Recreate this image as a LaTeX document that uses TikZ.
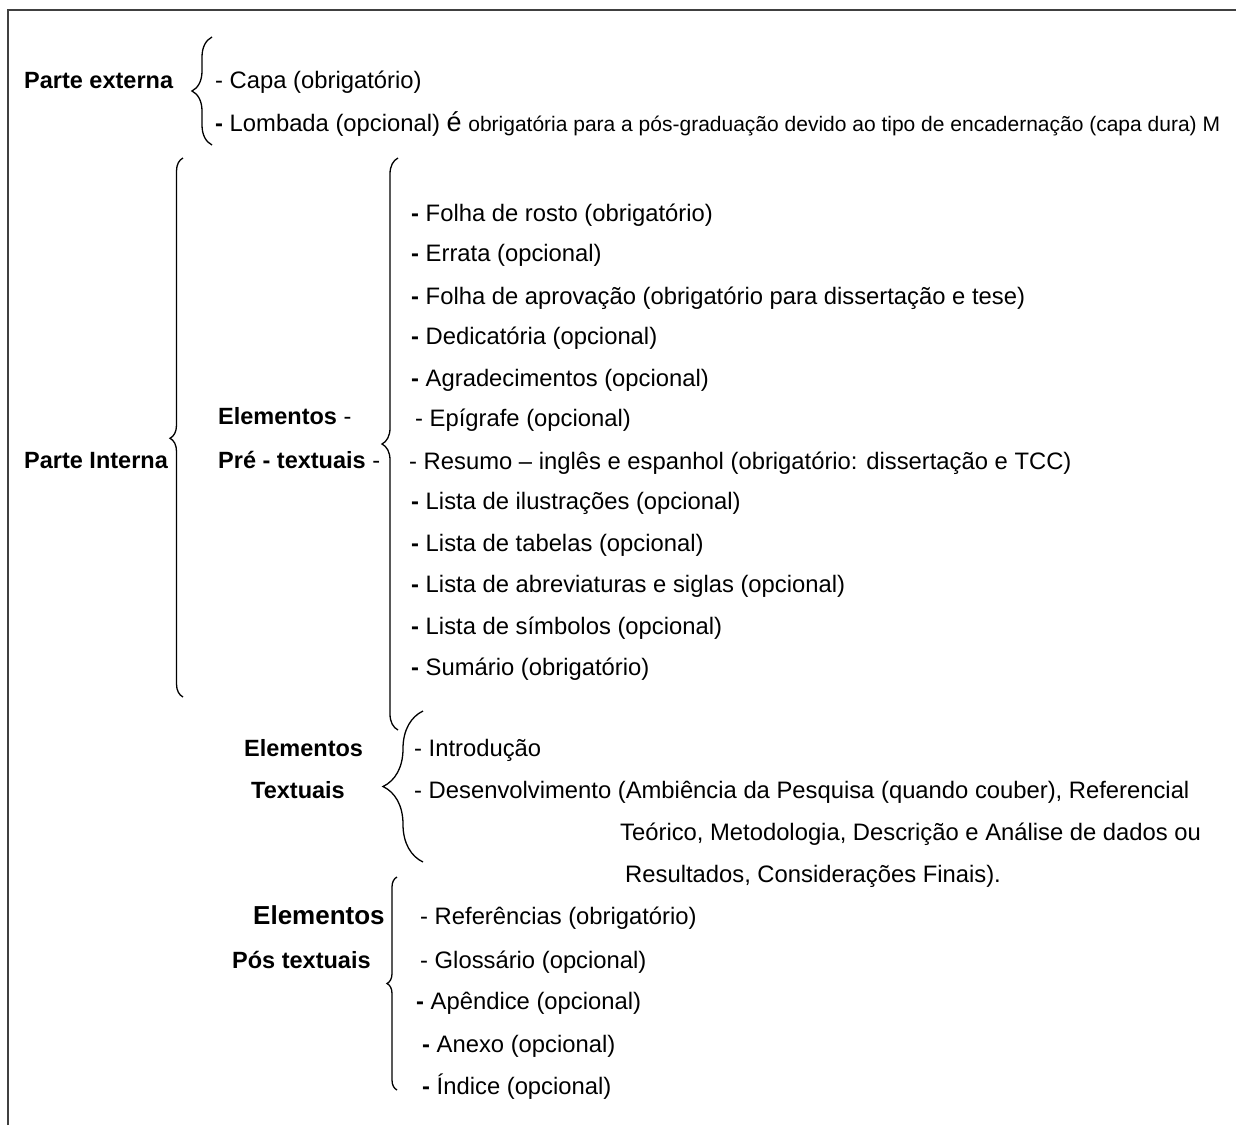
\documentclass[tikz,border=0pt]{standalone}
\usepackage{fontspec}
\setmainfont{Liberation Sans}
\usetikzlibrary{decorations.pathreplacing}
\newcommand{\bdash}{{\bfseries -}}

\begin{document}
\begin{tikzpicture}[x=1pt,y=1pt,
	item_node/.style={anchor=base west,inner sep=0pt,font=\fontsize{23.8}{28}\selectfont},
	head_node/.style={anchor=base west,inner sep=0pt,font=\fontsize{23.5}{28}\selectfont\bfseries},
	brace_line/.style={decorate,decoration={brace,amplitude=#1},line width=1.3pt}]
		
		\useasboundingbox (0,0) rectangle (1236,-1125);
		\draw[line width=1.5pt,black!75] (8,-1125) -- (8,-10) -- (1236,-10);
		
		\node[head_node] (pe) at (24,-88) {Parte externa};
		\node[item_node] (capa) at (215,-88) {- Capa (obrigatório)};
		\node[item_node] (lomb) at (215,-131) {\bdash{} Lombada (opcional) {\fontsize{27}{30}\selectfont é} {\fontsize{21}{24}\selectfont obrigatória para a pós-graduação devido ao tipo de encadernação (capa dura) M}};
		
		\node[head_node] (pi) at (24,-468) {Parte Interna};
		\node[head_node] (ept1) at (218,-424) {Elementos {\mdseries -}};
		\node[head_node] (ept2) at (218,-468) {Pré - textuais {\mdseries -}};
		
		\node[item_node] (pt1) at (411,-221) {\bdash{} Folha de rosto (obrigatório)};
		\node[item_node] (pt2) at (411,-261) {\bdash{} Errata (opcional)};
		\node[item_node] (pt3) at (411,-304) {\bdash{} Folha de aprovação (obrigatório para dissertação e tese)};
		\node[item_node] (pt4) at (411,-344) {\bdash{} Dedicatória (opcional)};
		\node[item_node] (pt5) at (411,-386) {\bdash{} Agradecimentos (opcional)};
		\node[item_node] (pt6) at (415,-426) {- Epígrafe (opcional)};
		\node[item_node] (pt7) at (409,-469) {- Resumo – inglês e espanhol (obrigatório: dissertação e TCC)};
		\node[item_node] (pt8) at (411,-509) {\bdash{} Lista de ilustrações (opcional)};
		\node[item_node] (pt9) at (411,-551) {\bdash{} Lista de tabelas (opcional)};
		\node[item_node] (pt10) at (411,-592) {\bdash{} Lista de abreviaturas e siglas (opcional)};
		\node[item_node] (pt11) at (411,-634) {\bdash{} Lista de símbolos (opcional)};
		\node[item_node] (pt12) at (411,-675) {\bdash{} Sumário (obrigatório)};
		
		\node[head_node] (et1) at (244,-756) {Elementos};
		\node[head_node] (et2) at (251,-798) {Textuais};
		\node[item_node] (t1) at (414,-756) {- Introdução};
		\node[item_node] (t2) at (414,-798) {- Desenvolvimento (Ambiência da Pesquisa (quando couber), Referencial};
		\node[item_node] (t3) at (620,-840) {Teórico, Metodologia, Descrição e Análise de dados ou};
		\node[item_node] (t4) at (625,-882) {Resultados, Considerações Finais).};
		
		\node[head_node,font=\fontsize{26}{30}\selectfont\bfseries] (ep1) at (253,-924) {Elementos};
		\node[head_node] (ep2) at (232,-968) {Pós textuais};
		\node[item_node] (p1) at (420,-924) {- Referências (obrigatório)};
		\node[item_node] (p2) at (420,-968) {- Glossário (opcional)};
		\node[item_node] (p3) at (416,-1009) {\bdash{} Apêndice (opcional)};
		\node[item_node] (p4) at (422,-1052) {\bdash{} Anexo (opcional)};
		\node[item_node] (p5) at (422,-1094) {\bdash{} Índice (opcional)};
		
		\coordinate (b1b) at (212,-145);
		\coordinate (b1t) at (212,-37);
		\coordinate (b2b) at (183,-697);
		\coordinate (b2t) at (183,-158);
		\coordinate (b3b) at (398,-730);
		\coordinate (b3t) at (398,-158);
		\coordinate (b4b) at (423,-862);
		\coordinate (b4t) at (423,-711);
		\coordinate (b5b) at (397,-1090);
		\coordinate (b5t) at (397,-877);
		
		\draw[brace_line=20] (b1b) -- (b1t);
		\draw[brace_line=13,decoration={aspect=0.48}] (b2b) -- (b2t);
		\draw[brace_line=16] (b3b) -- (b3t);
		\draw[brace_line=40] (b4b) -- (b4t);
		\draw[brace_line=10] (b5b) -- (b5t);
		\end{tikzpicture}
\end{document}
